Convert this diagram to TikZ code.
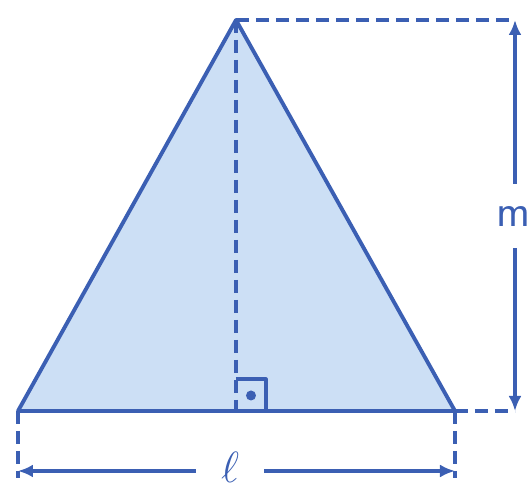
\documentclass[tikz,border=0pt]{standalone}
\usetikzlibrary{arrows.meta, calc}
\definecolor{triframe}{HTML}{3B5FB3}
\definecolor{trifill}{HTML}{CCDFF5}
\tikzset{
  edge/.style={draw=triframe, line width=2.2pt, line join=round},
  helper/.style={draw=triframe, line width=1.8pt, dash pattern=on 0.26cm off 0.14cm},
  dimarr/.style={-{Latex[length=3mm, width=2.6mm]}, draw=triframe, line width=1.8pt},
  lbl/.style={text=triframe, inner sep=0pt, font=\fontsize{26}{28}\selectfont}
}
\begin{document}
\begin{tikzpicture}
  \useasboundingbox (0,0) rectangle (10.58,9.78);

  % corners of the triangle and foot of the height
  \coordinate (A) at (0.36,1.56);
  \coordinate (B) at (9.10,1.56);
  \coordinate (C) at (4.72,9.38);
  \coordinate (H) at (4.72,1.56);

  % ends of the measure lines
  \coordinate (mtop) at (10.30,9.38);
  \coordinate (mbot) at (10.30,1.56);
  \coordinate (lleft) at (0.36,0.36);
  \coordinate (lright) at (9.10,0.36);
  \coordinate (tickA) at (0.36,0.22);
  \coordinate (tickB) at (9.10,0.22);

  \filldraw[edge, fill=trifill] (A) -- (B) -- (C) -- cycle;

  % height and helper lines
  \draw[helper] (C) -- (H);
  \draw[helper] (C) -- (mtop);
  \draw[helper] (B) -- (mbot);
  \draw[helper] (A) -- (tickA);
  \draw[helper] (B) -- (tickB);

  % right angle mark
  \draw[edge, line width=1.8pt] ($(H)+(0,0.64)$) -| ($(H)+(0.6,0)$);
  \fill[triframe] ($(H)+(0.3,0.31)$) circle (0.1);

  % labels with their measure lines
  \node[lbl, inner ysep=0.44cm] (m) at (10.27,5.46) {\textsf{m}};
  \node[lbl, inner xsep=0.5cm, font=\fontsize{24}{26}\selectfont] (l) at (4.60,0.44) {$\ell$};
  \draw[dimarr] (m.north -| mtop) -- (mtop);
  \draw[dimarr] (m.south -| mbot) -- (mbot);
  \draw[dimarr] (l.west |- lleft) -- (lleft);
  \draw[dimarr] (l.east |- lright) -- (lright);
\end{tikzpicture}
\end{document}
